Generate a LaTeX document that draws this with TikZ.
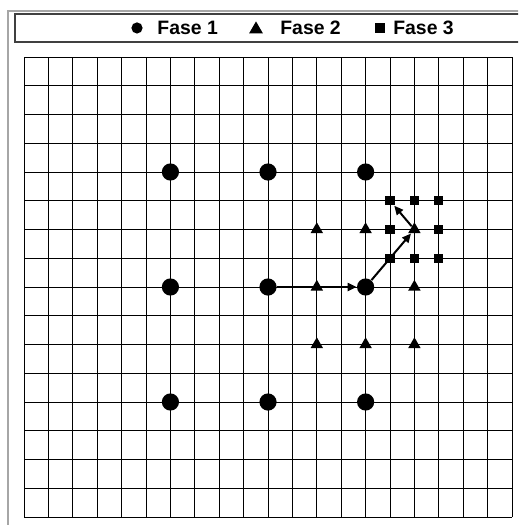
\documentclass[tikz,border=0pt]{standalone}
\usepackage{fontspec}
\setmainfont{Liberation Sans}
\usetikzlibrary{shapes.geometric,arrows.meta}
\begin{document}
\begin{tikzpicture}[x=12.2pt,y=14.375pt,
  fase1/.style={circle, fill=black, inner sep=0pt, minimum size=8.6pt},
  fase2/.style={regular polygon, regular polygon sides=3, fill=black, inner sep=0pt, minimum size=7.2pt},
  fase3/.style={rectangle, fill=black, inner sep=0pt, minimum size=4.6pt},
  legtext/.style={anchor=west, inner sep=0pt, font=\fontsize{9.7}{11}\selectfont\bfseries},
  move/.style={-{Triangle[length=4.5pt,width=4pt]}, line width=1pt}]
\clip (-0.984,-0.278) rectangle (20.246,17.983);
% window frame and legend
\draw[black!35, line width=0.9pt] (-0.656,-0.5) -- (-0.656,17.6) -- (20.5,17.6);
\draw[black!75, line width=0.6pt] (-0.369,16.522) rectangle (20.5,17.496);
\node[fase1, minimum size=5.6pt] (leg1) at (4.631,17.01) {};
\node[legtext] at (5.451,17.01) {Fase 1};
\node[fase2, minimum size=8pt] (leg2) at (9.508,16.96) {};
\node[legtext] at (10.49,17.01) {Fase 2};
\node[fase3] (leg3) at (14.59,17.01) {};
\node[legtext] at (15.12,17.01) {Fase 3};
% grid
\foreach \x in {0,...,20} {
  \draw[black, line width=0.5pt] (\x,0) -- (\x,16);
}
\foreach \y in {0,...,16} {
  \draw[black, line width=0.5pt] (0,\y) -- (20,\y);
}
% fase 1
\foreach \i in {6,10,14} {
  \foreach \j in {4,8,12} {
    \node[fase1] (d-\i-\j) at (\i,\j) {};
  }
}
% fase 2
\foreach \i/\j in {12/10,14/10,16/10,12/8,16/8,12/6,14/6,16/6} {
  \node[fase2] (t-\i-\j) at (\i,\j) {};
}
% fase 3
\foreach \i/\j in {15/11,16/11,17/11,15/10,17/10,15/9,16/9,17/9} {
  \node[fase3] (s-\i-\j) at (\i,\j) {};
}
\draw[move] (d-10-8) -- (d-14-8);
\draw[move] (d-14-8) -- (t-16-10);
\draw[move] (t-16-10) -- (s-15-11);
\end{tikzpicture}
\end{document}
